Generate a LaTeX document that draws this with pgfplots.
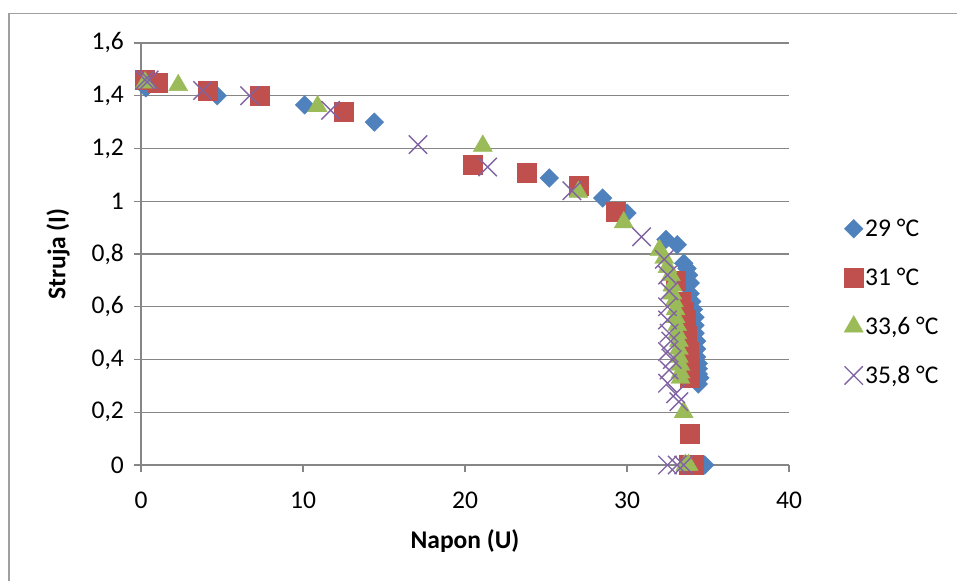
\documentclass[border=0pt]{standalone}
\usepackage{pgfplots}
\pgfplotsset{compat=1.18}
\usepackage{fontspec}
\setmainfont{Carlito}
\definecolor{cblue}{HTML}{4F81BD}
\definecolor{cred}{HTML}{C0504D}
\definecolor{cgreen}{HTML}{9BBB59}
\definecolor{cpurple}{HTML}{8064A2}
\definecolor{cgrid}{HTML}{868686}
\definecolor{cframe}{HTML}{A0A0A0}
\newcommand{\bigf}{\fontsize{25.5bp}{30bp}\selectfont}
\begin{document}
\begin{tikzpicture}
\useasboundingbox (-141bp,-116bp) rectangle (816bp,465bp);
\begin{axis}[
  at={(0,0)}, anchor=south west,
  scale only axis, width=648bp, height=422bp,
  xmin=0, xmax=40, ymin=0, ymax=1.6,
  axis x line=bottom, axis y line=left,
  axis line style={-, cgrid, line width=1.3bp},
  xtick={0,10,20,30,40}, ytick={0,0.2,0.4,0.6,0.8,1,1.2,1.4,1.6},
  yticklabels={0,{0,2},{0,4},{0,6},{0,8},1,{1,2},{1,4},{1,6}},
  xticklabels={0,10,20,30,40},
  tick align=outside, major tick length=7bp,
  tick style={cgrid, line width=1.3bp},
  ymajorgrids, grid style={cgrid, line width=1.3bp},
  ticklabel style={font=\bigf},
  yticklabel style={inner sep=0pt, xshift=-10bp},
  xticklabel style={inner sep=0pt, yshift=-20bp},
  xlabel={\textbf{Napon (U)}}, ylabel={\textbf{Struja (I)}},
  label style={font=\bigf},
  xlabel style={at={(axis description cs:0.5,0)}, anchor=center, yshift=-76bp},
  ylabel style={at={(axis description cs:0,0.5)}, anchor=center, yshift=83bp},
  legend style={draw=none, fill=none, font=\bigf, at={(axis description cs:1,0.386)}, anchor=west, xshift=52bp, row sep=26bp},
  legend cell align=left,
  clip=false,
]
\addplot[only marks, mark=square*, mark size=6.6bp, mark options={rotate=45, fill=cblue, draw=cblue}] coordinates {
(0.3,1.43)(4.7,1.40)(10.1,1.365)(14.4,1.30)(25.2,1.088)(28.5,1.012)(30.0,0.955)(32.4,0.855)(33.1,0.835)(33.5,0.765)(33.7,0.745)(33.8,0.72)(33.9,0.69)(33.9,0.65)(34.0,0.62)(34.1,0.59)(34.2,0.56)(34.2,0.53)(34.2,0.50)(34.3,0.47)(34.3,0.44)(34.3,0.41)(34.4,0.385)(34.4,0.365)(34.4,0.345)(34.5,0.33)(34.4,0.307)(34.8,0.0)
};
\addlegendentry{29 °C}
\addplot[only marks, mark=square*, mark size=9.5bp, mark options={fill=cred, draw=cred}] coordinates {
(0.25,1.46)(1.05,1.45)(4.1,1.42)(7.3,1.40)(12.5,1.34)(20.5,1.14)(23.8,1.11)(27.0,1.06)(29.3,0.96)(33.0,0.70)(33.3,0.62)(33.5,0.58)(33.6,0.55)(33.6,0.52)(33.7,0.49)(33.7,0.46)(33.8,0.43)(33.8,0.40)(33.9,0.37)(33.9,0.35)(33.9,0.33)(33.9,0.12)(33.8,0.0)(34.1,0.0)
};
\addlegendentry{31 °C}
\addplot[only marks, mark=triangle*, mark size=11bp, mark options={fill=cgreen, draw=cgreen}] coordinates {
(0.25,1.45)(2.3,1.44)(10.9,1.36)(21.1,1.21)(27.0,1.035)(29.8,0.92)(32.0,0.815)(32.3,0.785)(32.5,0.75)(32.7,0.72)(32.8,0.68)(32.8,0.65)(32.9,0.62)(33.0,0.59)(33.0,0.56)(33.1,0.53)(33.1,0.50)(33.2,0.47)(33.2,0.44)(33.2,0.41)(33.3,0.38)(33.3,0.35)(33.3,0.33)(33.5,0.20)(33.6,0.0)(33.8,0.0)
};
\addlegendentry{33,6 °C}
\addplot[only marks, mark=x, mark size=13bp, mark options={draw=cpurple, line width=1.4bp}] coordinates {
(0.25,1.46)(0.5,1.46)(3.8,1.42)(6.7,1.40)(11.7,1.345)(17.1,1.215)(21.4,1.13)(26.6,1.04)(30.9,0.865)(32.3,0.78)(32.5,0.72)(32.6,0.66)(32.5,0.60)(32.5,0.55)(32.6,0.50)(32.7,0.47)(32.5,0.43)(32.8,0.40)(32.6,0.36)(32.5,0.31)(33.0,0.27)(33.2,0.24)(32.5,0.0)(33.1,0.0)(33.5,0.0)
};
\addlegendentry{35,8 °C}
\end{axis}
\draw[cframe, line width=1.3bp] (-132bp,-130bp) -- (-132bp,451.5bp) -- (830bp,451.5bp);
\end{tikzpicture}
\end{document}
